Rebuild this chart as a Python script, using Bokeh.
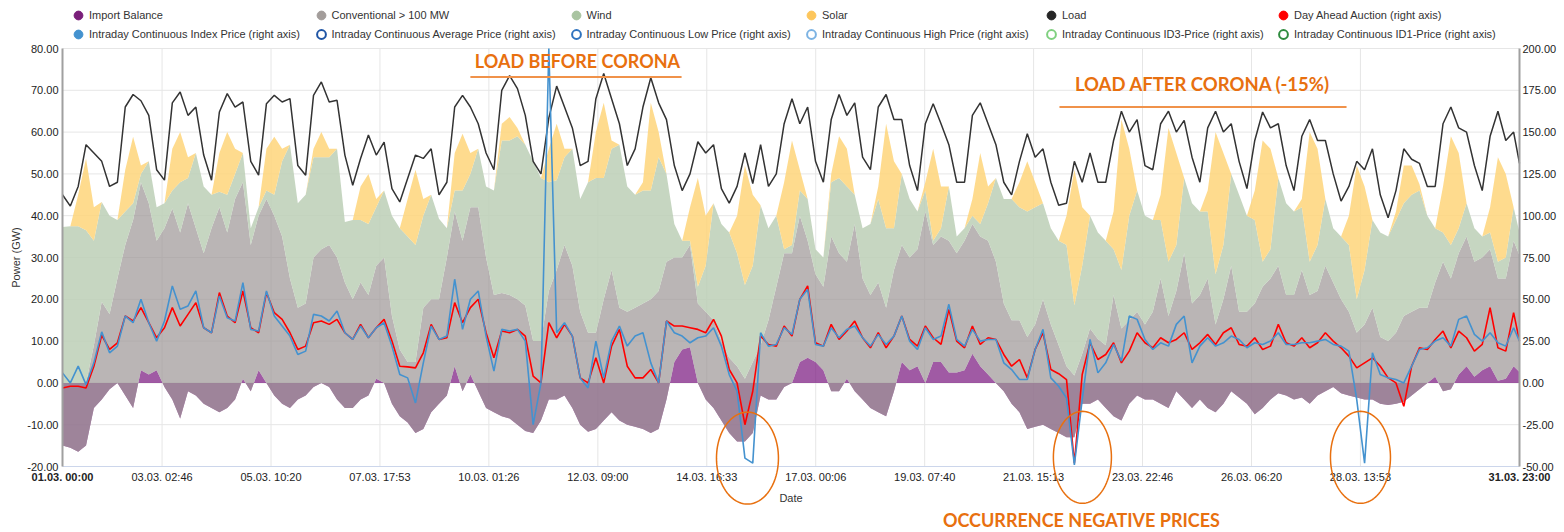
import numpy as np
from bokeh.plotting import figure
from bokeh.models import (ColumnDataSource, Range1d, LinearAxis, FixedTicker,
                          NumeralTickFormatter, Legend, LegendItem, Label,
                          PolyAnnotation)
from bokeh.embed import file_html
from bokeh.resources import INLINE

# ---------------- data (4-hourly samples) ----------------
# hours since 01.03. 00:00 (every 4 h, plus the last hour 31.03. 23:00)
hours = list(range(0, 744, 4)) + [743]

import_balance = [
    -15, -15.5, -16.5, -15, -6, -4, -1.5, 0, -3, -6,
    3, 2, 3, -1, -4, -8.5, -2, -3, -5, -6,
    -7, -6, -4, 1, -2, 3, 0, -3, -5, -6,
    -4, -3, -1, 0, -1, -4, -6, -6, -4, -3,
    1, 0, -5, -8, -9.5, -12, -11, -7, -5, -3,
    4, -2, 2, -2, -6, -7, -8, -8.5, -10, -11.5,
    -12, -9, -4, -4, -3, -6, -10, -11.7, -11, -9,
    -7, -9, -10, -10.5, -11, -12, -11, -4, 5, 8,
    8.5, 0, -4, -6, -9, -12, -14, -14, -12, -3,
    -4, -4, -1, 0, 5, 6, 5, 3, -2, -2,
    1, -2, -4, -6, -7, -8, -2, 5, 3, 4,
    0, 5, 5, 2.5, 2.5, 3, 7, 4, 2, 0,
    -2, -5, -7, -11, -10.5, -10, -11, -12, -13, -13,
    -5, -5, -4, -6, -8, -9, -5, -3, -4, -4,
    -5, -6, -2, -4, -6, -4, -6, -7, -5, -2,
    -3.5, -5, -7.5, -6, -4, -2.5, -3, -4, -3.5, -5,
    -3, -2, -1, -2.5, -3, -3.5, -4, -4, -5, -5.3,
    -5, -4.5, -3, -1.5, 0, 1.5, -2, -1.5, 2, 4,
    1.5, 3, 4, 0.5, 1, 4, 2.6]

conventional = [
    15, 15.5, 16.5, 15, 15, 23.4, 18, 25, 36, 45,
    45, 41, 31, 38, 45.7, 44.5, 45, 40, 36, 43,
    49, 42, 48, 47, 35, 37, 44, 43, 40, 31,
    22, 22, 31, 32, 34, 34, 30, 26, 28, 24,
    27, 30, 21, 16, 14.5, 17, 29, 27, 25, 33,
    37, 36, 40, 44, 36, 28, 29.5, 29.5, 30, 30,
    22, 19, 26, 31, 36, 34, 27, 23.7, 23, 29,
    34, 27, 27, 28.5, 30, 32, 33, 33, 25, 22,
    24.5, 19, 21, 21, 19, 18, 18, 15, 17, 12,
    19, 27, 32, 31, 35, 28, 21, 20, 37, 33,
    28, 40, 29, 27, 31, 26, 29, 28, 27, 28,
    41, 28, 30, 31.5, 28.5, 31, 31, 31, 32, 29,
    21, 20, 22, 22, 24.5, 30, 25, 21, 17, 14.8,
    12, 18, 14.5, 15, 29, 22, 20, 20, 18, 21,
    30, 22, 24, 35, 25, 25, 31, 21, 25, 30,
    20.5, 22, 26.5, 29, 29, 30.5, 24, 25, 30.5, 26,
    25, 30, 25, 22.5, 20, 15.5, 18, 22, 16, 15.3,
    17, 20.5, 20, 19.5, 18, 22.5, 31, 26.5, 29, 31,
    27.5, 27, 28, 24.5, 24, 30, 27.9]

wind = [
    37.3, 37.5, 37.5, 36.5, 25, 23.9, 23.5, 14, 8, 4,
    2, 10, 8, 6, 4.3, 12, 6, 18, 16, 8,
    3.7, 9, 6, 7, 4, 2, 2, 5, 18, 32,
    25, 26, 24, 22, 21, 26, 14.5, 19, 15, 17,
    14, 16, 24, 29, 30, 28, 22, 25, 19.3, 7,
    5, 12, 8, 14, 17, 25, 36.5, 37, 39, 38.5,
    43, 39, 26, 21.5, 21, 28, 27, 36, 37, 29,
    29, 39, 30, 27, 27, 26, 32, 21, 8, 4,
    1, 4, 11, 28, 28, 30, 27, 22.4, 23, 33.5,
    22, 17, 1, 2, 6, 10, 6, 7, 13, 18,
    18, 7, 12, 17, 20, 19, 10, 17, 14, 9,
    5, 1, 2, 13, 4, 3, 2, 3, 9, 20,
    25, 29, 27, 30, 28, 23, 23, 25, 29, 16.8,
    21, 27, 25.5, 25, 11, 14, 25, 29, 26, 22,
    14, 13, 11, 18, 24, 20, 16, 12, 13, 22,
    28, 23, 20, 6, 7, 21, 22, 20, 15, 8,
    11, 16, 13, 15, 16, 8, 13, 21, 25, 25,
    27, 27, 28, 28, 22, 13, 7, 8, 6, 8,
    8, 5, 4, 4, 5, 8, 5.5]

solar = [
    0, 0, 7.5, 17.2, 8, 0, 0, 0, 10, 15.9,
    2, 0, 0, 0, 10, 12, 5, 0, 0, 0,
    9.3, 15, 6, 0, 0, 0, 10, 13.9, 3, 0,
    0, 0, 2, 6, 2, 0, 0, 0, 8, 12,
    2, 0, 0, 0, 9, 18, 4, 0, 0, 0,
    9, 13.6, 5, 0, 0, 0, 4, 5.6, 2, 0,
    0, 0, 8, 13.5, 2, 0, 0, 0, 11, 18,
    2, 0, 0, 0, 2, 21, 6, 0, 0, 0,
    8, 26, 12, 0, 0, 0, 9, 28.6, 17, 0,
    0, 0, 16, 25, 5, 0, 0, 0, 2, 10,
    9, 0, 0, 0, 3, 25, 16, 0, 0, 0,
    2, 22, 10, 0, 0, 0, 4, 17, 4, 0,
    0, 0, 6, 12, 6, 0, 0, 0, 7, 32.4,
    14, 0, 0, 0, 9, 36, 16, 0, 0, 0,
    6, 32, 22, 0, 0, 0, 5, 34, 22, 0,
    0, 0, 7, 29, 24, 0, 0, 0, 2, 31,
    23, 0, 0, 0, 7, 32, 20, 0, 0, 0,
    2, 9, 7, 1.5, 0, 0, 11, 26, 18, 0,
    0, 0, 6, 25, 20, 0, 0]

load = [
    45, 42.3, 47, 57, 55, 53, 47, 48, 66, 69,
    67.5, 64, 51, 48.5, 67, 69.6, 64, 66, 54.5, 48.5,
    64.8, 69.2, 66, 67.2, 53, 49.7, 66.8, 68.8, 67.2, 68,
    52, 49.7, 68.8, 72, 67.2, 67.6, 54.5, 47.3, 53.7, 59.3,
    54.5, 57.6, 46.5, 43.3, 48.9, 54.5, 53.7, 56, 45, 48,
    66, 68.8, 66, 62, 55, 51, 70, 73.5, 70.4, 64,
    53, 50, 63.4, 71, 66, 61, 52, 53, 68, 74,
    68, 62, 52, 56, 66, 73, 67, 63, 52, 46,
    50, 57.7, 55, 57, 46.5, 43, 47, 55, 47.7, 57,
    47, 50, 62, 68, 62, 66, 53, 48, 63, 69,
    64, 67, 54, 51, 66, 69, 63, 63, 52, 46,
    62, 66.8, 62, 57, 48, 48, 64, 67, 62, 57,
    48, 45, 53, 59.6, 54, 56, 48, 42.5, 43, 53,
    48, 55, 48, 48, 58, 65, 60, 63, 52, 51,
    62, 65, 60, 62.8, 54, 48, 61, 65, 60, 62,
    53, 46.5, 58, 64.8, 61, 62, 52, 46, 59, 63,
    58, 58, 50, 43.5, 47, 53, 51, 56, 45, 39.5,
    46, 56, 53.5, 52.5, 47, 47, 62, 66, 61, 60,
    52, 46, 59, 65, 58, 60, 52.5]

day_ahead = [
    -3, -2, -2, -3, 10, 28.5, 20, 24, 40, 37,
    45, 36, 27, 33, 45, 34, 41, 48, 33, 30,
    54, 40, 36, 55, 33, 30, 54, 42, 38, 30,
    20, 22, 36, 37, 35, 38, 30, 26, 35, 27,
    33, 38, 25, 10, 9.6, 9, 18, 35, 26, 27,
    48, 36, 45, 50, 30, 15, 31, 30, 32, 28,
    4, 0, 36, 27, 35, 28, 3, 0, 15, 0,
    22, 32, 10, 3, 3, 8, 0, 37, 34, 34,
    33, 32, 30, 38, 28, 8, 0, -25, -5, 28,
    23, 22, 34, 28, 50, 58, 24, 22, 35, 26,
    31, 37, 27, 21, 30, 21, 28, 40, 26, 22,
    34, 27, 23, 44, 25, 21, 34, 23, 27, 26,
    17, 10, 14, 3, 20, 30, 8, 5.5, 2, -48,
    5, 24, 14, 17, 24, 12, 19, 30, 24, 21,
    27, 24, 26, 30, 20, 24, 29, 23, 30, 33,
    23, 22, 27, 20, 22, 35, 24, 22, 27, 21,
    24, 30, 25, 21, 16, 9, 12, 15, 10, 3,
    0, -14, 10, 21, 20, 26, 31, 21, 31, 27,
    19, 23, 45, 21, 19, 42, 25]

intraday_index = [
    6, 0, 10, -1, 12, 30.5, 18, 22, 40, 36,
    50, 36, 25, 37, 58, 44, 46, 55, 33, 30,
    52, 39, 37, 60, 32, 31, 55, 40, 34, 28,
    17, 19, 41, 40, 37, 43, 30, 26, 34, 27,
    33, 36, 22, 5, 3, -12, 12, 34, 26, 28,
    62, 32, 50, 55, 28, 7, 32, 31, 32, 25,
    -25, 0, 200, 30, 36, 28, 3, -3, 25, 3,
    25, 34, 22, 28, 30, 12, 0, 37, 30, 28,
    24, 27, 28, 33, 22, 5, -5, -45, -48, 30,
    22, 23, 33, 29, 50, 56, 23, 22, 33, 27,
    32, 34, 27, 22, 29, 23, 28, 40, 25, 20,
    33, 26, 28, 47, 26, 22, 32, 25, 26, 26,
    12, 8, 2, 2, 20, 32, 3, -2, -9, -49,
    -10, 26, 6, 12, 23, 13, 40, 38, 26, 20,
    24, 22, 35, 40, 12, 22, 27, 22, 24, 28,
    26, 21, 24, 23, 25, 30, 23, 23, 24, 24,
    25, 26, 23, 22, 19, -10, -48, 18, 5, 3,
    2, 0, 10, 20, 21, 25, 27, 22, 38, 40,
    29, 25, 30, 24, 22, 33, 25]

x_tick_hours = [50.77, 106.33, 161.88, 217.43, 273.0, 328.55, 384.1,
                439.67, 495.22, 550.77, 606.33, 661.88]
x_tick_labels = ["03.03. 02:46", "05.03. 10:20", "07.03. 17:53", "10.03. 01:26",
                 "12.03. 09:00", "14.03. 16:33", "17.03. 00:06", "19.03. 07:40",
                 "21.03. 15:13", "23.03. 22:46", "26.03. 06:20", "28.03. 13:53"]
first_label, last_label = "01.03. 00:00", "31.03. 23:00"
power_ticks = [-20, -10, 0, 10, 20, 30, 40, 50, 60, 70, 80]
price_ticks = [-50, -25, 0, 25, 50, 75, 100, 125, 150, 175, 200]

# ---------------- stacked columns ----------------
n = min(len(hours), len(import_balance), len(conventional), len(wind), len(solar),
        len(load), len(day_ahead), len(intraday_index))
h = np.array(hours[:n], dtype=float)
ib = np.array(import_balance[:n], dtype=float)
conv_top = ib + np.array(conventional[:n], dtype=float)
wind_top = conv_top + np.array(wind[:n], dtype=float)
solar_top = wind_top + np.array(solar[:n], dtype=float)

src = ColumnDataSource(dict(
    h=h, zero=np.zeros(n), ib=ib, conv_top=conv_top, wind_top=wind_top,
    solar_top=solar_top, load=np.array(load[:n], dtype=float),
    da=np.array(day_ahead[:n], dtype=float), idx=np.array(intraday_index[:n], dtype=float)))

# ---------------- canvas / plot-area geometry ----------------
W, H = 1564, 532
PL, PR, PT, PB = 62, 1519, 48, 466          # plot area inside the canvas (px)
X0, X1 = 0.0, 743.0                         # hours
Y0, Y1 = -20.0, 80.0                        # GW
P0, P1 = -50.0, 200.0                       # EUR/MWh
xs = (X1 - X0) / (PR - PL)
ys = (Y1 - Y0) / (PB - PT)
ps = (P1 - P0) / (PB - PT)
x_range = Range1d(X0 - PL * xs, X1 + (W - PR) * xs)
y_range = Range1d(Y0 - (H - PB) * ys, Y1 + PT * ys)
p_range = Range1d(P0 - (H - PB) * ps, P1 + PT * ps)

FONT = "Liberation Sans"

p = figure(width=W, height=H, x_range=x_range, y_range=y_range, title=None,
           output_backend="svg", toolbar_location=None, min_border=0,
           background_fill_color="white", border_fill_color="white",
           outline_line_color=None)
p.extra_y_ranges = {"price": p_range}
p.xgrid.visible = False
p.ygrid.visible = False

# grid lines (only inside the plot area)
GRID = "#e6e6e6"
p.segment(x0=[X0] * len(power_ticks), y0=power_ticks, x1=[X1] * len(power_ticks),
          y1=power_ticks, line_color=GRID, line_width=1)
p.segment(x0=x_tick_hours, y0=[Y0] * len(x_tick_hours), x1=x_tick_hours,
          y1=[Y1] * len(x_tick_hours), line_color=GRID, line_width=1)

# stacked areas
p.varea(x="h", y1="zero", y2="ib", source=src, fill_color=(120, 20, 125), fill_alpha=0.7)
p.varea(x="h", y1="ib", y2="conv_top", source=src, fill_color=(156, 149, 149), fill_alpha=0.7)
p.varea(x="h", y1="conv_top", y2="wind_top", source=src, fill_color=(188, 207, 182), fill_alpha=0.85)
p.varea(x="h", y1="wind_top", y2="solar_top", source=src, fill_color=(254, 213, 122), fill_alpha=0.85)

# lines
p.line(x="h", y="load", source=src, line_color="#333333", line_width=1.5)
p.line(x="h", y="da", source=src, y_range_name="price", line_color="#ff0000", line_width=1.6)
p.line(x="h", y="idx", source=src, y_range_name="price", line_color="#4492cf", line_width=1.6)

# ---------------- axes (pinned to the plot-area edges) ----------------
left = p.yaxis[0]
left.fixed_location = X0
left.bounds = (Y0, Y1)
left.ticker = FixedTicker(ticks=power_ticks)
left.formatter = NumeralTickFormatter(format="0.00")
left.axis_label = "Power (GW)"

right = LinearAxis(y_range_name="price", ticker=FixedTicker(ticks=price_ticks),
                   formatter=NumeralTickFormatter(format="0.00"),
                   fixed_location=X1, bounds=(P0, P1))
p.add_layout(right, "right")

xa = p.xaxis[0]
xa.fixed_location = Y0
xa.bounds = (X0, X1)
xa.ticker = FixedTicker(ticks=x_tick_hours)
xa.major_label_overrides = {t: s for t, s in zip(x_tick_hours, x_tick_labels)}
xa.axis_label = "Date"

for ax in (left, right, xa):
    ax.major_label_text_font = FONT
    ax.major_label_text_font_size = "11px"
    ax.major_label_text_color = "#222222"
    ax.major_tick_line_color = None
    ax.minor_tick_line_color = None
    ax.major_tick_out = 0
    ax.major_tick_in = 0
    ax.minor_tick_out = 0
    ax.minor_tick_in = 0
    ax.axis_label_text_font = FONT
    ax.axis_label_text_font_size = "11px"
    ax.axis_label_text_font_style = "normal"
    ax.axis_label_text_color = "#333333"
for ax in (left, right):
    ax.axis_line_color = "#a0a0a0"
    ax.axis_line_width = 2
left.major_label_standoff = 4
right.major_label_standoff = 3
left.axis_label_standoff = 2
xa.axis_line_color = "#ccd6eb"
xa.axis_line_width = 1
xa.major_label_standoff = 4
xa.axis_label_standoff = 6

for xv, txt in ((X0, first_label), (X1, last_label)):
    p.add_layout(Label(x=xv, y=Y0, text=txt, text_align="center", text_baseline="top",
                       y_offset=-4, text_font=FONT, text_font_size="11px",
                       text_font_style="bold", text_color="#222222"))

# ---------------- legend: one entry per slot, two rows above the plot ----------------
legend_entries = [
    # label, color, filled, column, row
    ("Import Balance", "#7a1f7a", True, 0, 0),
    ("Conventional > 100 MW", "#a39d9b", True, 1, 0),
    ("Wind", "#a9c4a1", True, 2, 0),
    ("Solar", "#fdc65c", True, 3, 0),
    ("Load", "#262626", True, 4, 0),
    ("Day Ahead Auction (right axis)", "#ff0000", True, 5, 0),
    ("Intraday Continuous Index Price (right axis)", "#4492cf", True, 0, 1),
    ("Intraday Continuous Average Price (right axis)", "#1f55a5", False, 1, 1),
    ("Intraday Continuous Low Price (right axis)", "#2f73bf", False, 2, 1),
    ("Intraday Continuous High Price (right axis)", "#7cb3e3", False, 3, 1),
    ("Intraday Continuous ID3-Price (right axis)", "#7fd07f", False, 4, 1),
    ("Intraday Continuous ID1-Price (right axis)", "#2e8b3e", False, 5, 1),
]
GB = 22                                     # legend glyph box (px)
col_centre = [80, 322.5, 577.5, 813, 1053, 1285]
row_centre = [15, 34]
for label, color, filled, c, r in legend_entries:
    rr = p.scatter(x=[np.nan], y=[np.nan], marker="circle", size=10,
                   fill_color=color if filled else None, line_color=color,
                   line_width=1 if filled else 2)
    loc = (col_centre[c] - 2 - GB / 2, H - (row_centre[r] + GB / 2))
    lg = Legend(items=[LegendItem(label=label, renderers=[rr])], location=loc,
                orientation="horizontal", glyph_width=GB, glyph_height=GB,
                label_standoff=0, spacing=0, padding=0, margin=0,
                border_line_color=None, background_fill_alpha=0,
                label_text_font=FONT, label_text_font_size="11px",
                label_text_color="#333333", label_height=GB)
    p.add_layout(lg, "center")

# ---------------- annotations ----------------
ORANGE = "#e8700f"
LINE_ORANGE = "#f0924a"
p.add_layout(Label(x=262.6, y=76.9, text="LOAD BEFORE CORONA", text_align="center",
                   text_baseline="middle", text_font="Lato", text_font_style="bold",
                   text_font_size="18px", text_color=ORANGE))
p.segment(x0=[208.0], y0=[73.2], x1=[315.7], y1=[73.2], line_color=LINE_ORANGE, line_width=2)
p.add_layout(Label(x=581.4, y=71.4, text="LOAD AFTER CORONA (-15%)", text_align="center",
                   text_baseline="middle", text_font="Lato", text_font_style="bold",
                   text_font_size="18.5px", text_color=ORANGE))
p.segment(x0=[508.4], y0=[66.0], x1=[654.8], y1=[66.0], line_color=LINE_ORANGE, line_width=2)
p.add_layout(Label(x=519.6, y=-32.9, text="OCCURRENCE NEGATIVE PRICES", text_align="center",
                   text_baseline="middle", text_font="Lato", text_font_style="bold",
                   text_font_size="18px", text_color=ORANGE))

t = np.linspace(0, 2 * np.pi, 97)
for cx, cy, a, b in ((349.3, -18.0, 15.8, 11.0), (520.1, -17.8, 14.8, 11.0),
                     (661.9, -17.8, 15.3, 11.0)):
    p.add_layout(PolyAnnotation(xs=list(cx + a * np.cos(t)), ys=list(cy + b * np.sin(t)),
                                xs_units="data", ys_units="data", fill_color=None,
                                fill_alpha=0, line_color=ORANGE, line_alpha=1.0,
                                line_width=1.5))

open("out.html", "w").write(file_html(p, INLINE))
